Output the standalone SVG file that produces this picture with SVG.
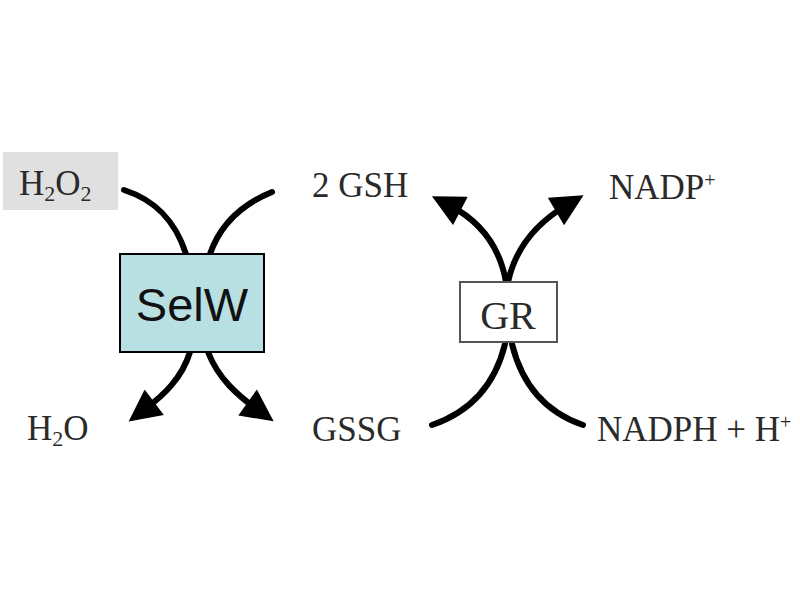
<svg xmlns="http://www.w3.org/2000/svg" width="800" height="600" viewBox="0 0 800 600">
<style>
.lbl{font-family:"Liberation Serif","Times New Roman",serif;font-size:35px;fill:#2a2a2a}
.sub{font-size:22px}
.sup{font-size:20px}
.c{fill:none;stroke:#000;stroke-width:6;stroke-linecap:round}
</style>
<defs>
<marker id="ah" viewBox="0 0 10 10" refX="4" refY="5" markerWidth="34" markerHeight="32" markerUnits="userSpaceOnUse" orient="auto">
<path d="M0,0 L10,5 L0,10 z" fill="#000"/>
</marker>
</defs>
<rect width="800" height="600" fill="#fff"/>
<g id="connectors">
<path class="c" d="M124,190 C155,200 175,220 186,254"/>
<path class="c" d="M272,192 C240,205 220,225 210,254"/>
<path class="c" d="M190,352 C182,378 164,395 144,410" marker-end="url(#ah)"/>
<path class="c" d="M208,352 C218,378 237,395 258,410" marker-end="url(#ah)"/>
<path class="c" d="M506,282 C500,248 482,222 449,205" marker-end="url(#ah)"/>
<path class="c" d="M508,282 C515,250 533,225 567,205" marker-end="url(#ah)"/>
<path class="c" d="M505,344 C495,385 470,412 432,425"/>
<path class="c" d="M512,344 C522,385 545,412 583,425"/>
</g>
<g id="h2o2">
<rect x="3" y="152" width="115" height="58" fill="#e0e0e0"/>
<text class="lbl" x="19" y="195">H<tspan class="sub" dy="6">2</tspan><tspan dy="-6">O</tspan><tspan class="sub" dy="6">2</tspan></text>
</g>
<g id="selw">
<rect x="120" y="254" width="144" height="98" fill="#b8dfe2" stroke="#000" stroke-width="2"/>
<text x="192" y="321" text-anchor="middle" font-family="Liberation Sans, Arial, sans-serif" font-size="47" fill="#111">SelW</text>
</g>
<g id="gsh"><text class="lbl" x="312" y="197">2 GSH</text></g>
<g id="h2o"><text class="lbl" x="27" y="440">H<tspan class="sub" dy="6">2</tspan><tspan dy="-6">O</tspan></text></g>
<g id="gssg"><text class="lbl" x="312" y="441">GSSG</text></g>
<g id="gr">
<rect x="460" y="282" width="97" height="60" fill="#fff" stroke="#555" stroke-width="2"/>
<text class="lbl" x="508" y="329" text-anchor="middle" style="font-size:40px">GR</text>
</g>
<g id="nadp"><text class="lbl" x="609" y="199">NADP<tspan class="sup" dy="-12">+</tspan></text></g>
<g id="nadph"><text class="lbl" x="597" y="441">NADPH + H<tspan class="sup" dy="-12">+</tspan></text></g>
</svg>
